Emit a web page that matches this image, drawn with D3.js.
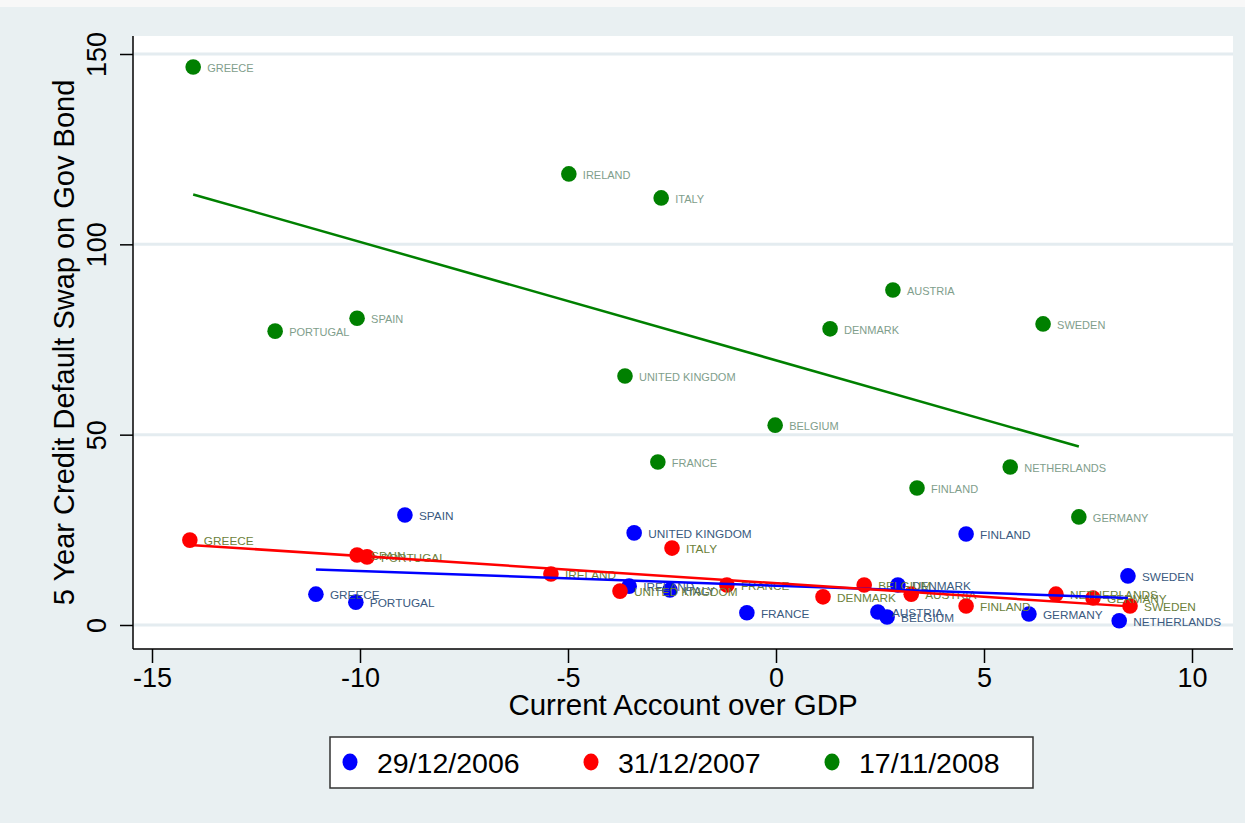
<!DOCTYPE html>
<html>
<head>
<meta charset="utf-8">
<script src="https://cdn.jsdelivr.net/npm/d3@7"></script>
<style>
  html, body { margin: 0; padding: 0; background: #f8f8f8; }
  svg { display: block; font-family: "Liberation Sans", Arial, sans-serif; }
</style>
</head>
<body>
<div id="chart"></div>
<script>
// country order is shared by all three dates
const countries = ['GREECE', 'PORTUGAL', 'SPAIN', 'IRELAND', 'UNITED KINGDOM', 'ITALY', 'FRANCE',
    'BELGIUM', 'AUSTRIA', 'DENMARK', 'FINLAND', 'GERMANY', 'NETHERLANDS', 'SWEDEN'];

// 29/12/2006
const caGdp2006 = [-11.06, -10.10, -8.92, -3.53, -3.41, -2.55, -0.70, 2.67, 2.45, 2.93, 4.57, 6.08, 8.25, 8.46];
const cds2006 = [8.1, 6.0, 28.9, 10.2, 24.2, 9.2, 3.2, 2.1, 3.4, 10.5, 23.9, 2.9, 1.1, 12.9];

// 31/12/2007
const caGdp2007 = [-14.09, -9.83, -10.07, -5.41, -3.75, -2.50, -1.18, 2.12, 3.25, 1.13, 4.57, 7.62, 6.73, 8.51];
const cds2007 = [22.3, 17.9, 18.4, 13.4, 8.9, 20.2, 10.5, 10.5, 8.1, 7.4, 5.0, 7.1, 8.1, 5.0];

// 17/11/2008
const caGdp2008 = [-14.01, -12.04, -10.07, -4.98, -3.63, -2.76, -2.84, -0.02, 2.81, 1.30, 3.39, 7.28, 5.63, 6.42];
const cds2008 = [146.6, 77.2, 80.6, 118.5, 65.4, 112.2, 42.8, 52.5, 88.0, 77.8, 36.0, 28.4, 41.5, 79.1];

const seriesNames = ['29/12/2006', '31/12/2007', '17/11/2008'];
const seriesColors = ['#0000ff', '#ff0000', '#008000'];
const labelColors = ['#3a5a80', '#6b7f3a', '#7f9e8c'];

const xTicks = [-15, -10, -5, 0, 5, 10];
const yTicks = [0, 50, 100, 150];

const width = 1245;
const height = 823;
const plot = { left: 133, top: 36, right: 1233, bottom: 649 };

const svg = d3.select('#chart').append('svg')
    .attr('width', width)
    .attr('height', height);

svg.append('rect')
    .attr('x', 0).attr('y', 7)
    .attr('width', width).attr('height', height - 7)
    .attr('fill', '#e9f0f2');

svg.append('rect')
    .attr('x', plot.left).attr('y', plot.top)
    .attr('width', plot.right - plot.left).attr('height', plot.bottom - plot.top)
    .attr('fill', '#ffffff');

const x = d3.scaleLinear().domain([-15, 10]).range([152, 1192]);
const y = d3.scaleLinear().domain([0, 150]).range([625, 54]);

// grid
svg.append('g').selectAll('line')
    .data(yTicks)
    .join('line')
    .attr('x1', plot.left + 1)
    .attr('x2', plot.right)
    .attr('y1', d => y(d))
    .attr('y2', d => y(d))
    .attr('stroke', '#e4ecf0')
    .attr('stroke-width', 3);

// axes
const xAxis = svg.append('g')
    .attr('transform', `translate(0,${plot.bottom})`)
    .call(d3.axisBottom(x).tickValues(xTicks).tickSize(14).tickPadding(5).tickFormat(d3.format('d')));
xAxis.select('.domain').attr('d', `M${plot.left},0H${plot.right}`).attr('stroke', '#000').attr('stroke-width', 1.5);
xAxis.selectAll('.tick line').attr('stroke', '#000').attr('stroke-width', 1.5);
xAxis.selectAll('.tick text')
    .attr('font-size', 27)
    .attr('fill', '#000')
    .text(d => d < 0 ? '-' + Math.abs(d) : d);

const yAxis = svg.append('g')
    .attr('transform', `translate(${plot.left},0)`)
    .call(d3.axisLeft(y).tickValues(yTicks).tickSize(13).tickPadding(0));
yAxis.select('.domain').attr('d', `M0,${plot.top}V${plot.bottom}`).attr('stroke', '#000').attr('stroke-width', 1.5);
yAxis.selectAll('.tick line').attr('stroke', '#000').attr('stroke-width', 1.5);
yAxis.selectAll('.tick text')
    .attr('font-size', 27)
    .attr('fill', '#000')
    .attr('x', 0)
    .attr('dy', 0)
    .attr('text-anchor', 'middle')
    .attr('transform', 'translate(-27,0) rotate(-90)');

svg.append('text')
    .attr('x', (plot.left + plot.right) / 2)
    .attr('y', 715)
    .attr('text-anchor', 'middle')
    .attr('font-size', 29.5)
    .text('Current Account over GDP');

svg.append('text')
    .attr('transform', `translate(74,${(plot.top + plot.bottom) / 2}) rotate(-90)`)
    .attr('text-anchor', 'middle')
    .attr('font-size', 29)
    .text('5 Year Credit Default Swap on Gov Bond');

const series = [
    { xs: caGdp2006, ys: cds2006 },
    { xs: caGdp2007, ys: cds2007 },
    { xs: caGdp2008, ys: cds2008 }
];

// least squares fit for each date
function fitLine(xs, ys) {
    const mx = d3.mean(xs), my = d3.mean(ys);
    let sxy = 0, sxx = 0;
    xs.forEach((v, i) => {
        sxy += (v - mx) * (ys[i] - my);
        sxx += (v - mx) * (v - mx);
    });
    const b = sxy / sxx;
    const a = my - b * mx;
    const x0 = d3.min(xs), x1 = d3.max(xs);
    return [[x0, a + b * x0], [x1, a + b * x1]];
}

const plotG = svg.append('g');

// order drawn: green, blue, red so red sits on top in the low cluster
[2, 0, 1].forEach(si => {
    const s = series[si];
    const pts = s.xs.map((v, i) => ({ x: v, y: s.ys[i], name: countries[i] }));
    const g = plotG.append('g');

    g.selectAll('circle')
        .data(pts)
        .join('circle')
        .attr('cx', d => x(d.x))
        .attr('cy', d => y(d.y))
        .attr('r', 7.8)
        .attr('fill', seriesColors[si]);

    g.selectAll('text')
        .data(pts)
        .join('text')
        .attr('x', d => x(d.x) + 14)
        .attr('y', d => y(d.y) + 5)
        .attr('font-size', si === 2 ? 11 : 11.8)
        .attr('fill', labelColors[si])
        .text(d => d.name);
});

[2, 0, 1].forEach(si => {
    const fit = fitLine(series[si].xs, series[si].ys);
    plotG.append('line')
        .attr('x1', x(fit[0][0]))
        .attr('y1', y(fit[0][1]))
        .attr('x2', x(fit[1][0]))
        .attr('y2', y(fit[1][1]))
        .attr('stroke', seriesColors[si])
        .attr('stroke-width', 2.5);
});

// legend
const legend = svg.append('g');
legend.append('rect')
    .attr('x', 330).attr('y', 737)
    .attr('width', 703).attr('height', 51)
    .attr('fill', '#fff')
    .attr('stroke', '#333')
    .attr('stroke-width', 1.5);

seriesNames.forEach((name, i) => {
    const lx = 350 + i * 241;
    legend.append('ellipse')
        .attr('cx', lx).attr('cy', 762)
        .attr('rx', 7.5).attr('ry', 8.5)
        .attr('fill', seriesColors[i]);
    legend.append('text')
        .attr('x', lx + 27).attr('y', 773)
        .attr('font-size', 28.5)
        .text(name);
});
</script>
</body>
</html>
